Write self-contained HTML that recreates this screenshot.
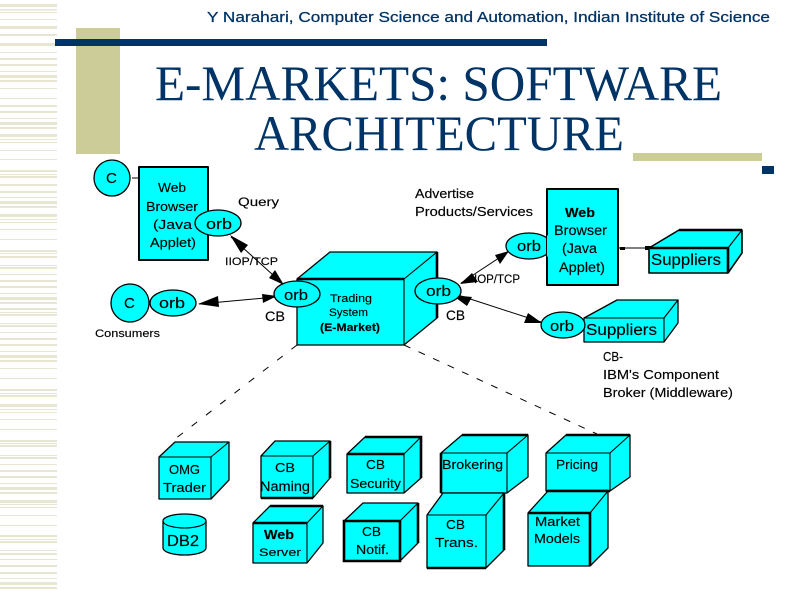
<!DOCTYPE html>
<html><head><meta charset="utf-8"><title>E-Markets: Software Architecture</title>
<style>html,body{margin:0;padding:0;background:#fff}svg{display:block}
.d{font-family:"Liberation Sans",sans-serif;fill:#000;stroke:#000;stroke-width:.15}
.c{fill:#0ff;stroke:#000;stroke-width:1.3;stroke-linejoin:round}
.e{fill:none;stroke:#000;stroke-width:1.1}
.h{fill:none;stroke:#000;stroke-width:2.6}
.l{fill:none;stroke:#000;stroke-width:1}
</style></head><body>
<svg width="794" height="595" viewBox="0 0 794 595" xmlns="http://www.w3.org/2000/svg">
<path fill="#e6e6d2" d="M0 4h57v3H0zM0 9h57v1.500H0zM0 12h57v1H0zM0 19h57v1H0zM0 26h57v3H0zM0 34h57v2H0zM0 43h57v3H0zM0 52h57v1H0zM0 58h57v2H0zM0 64h57v2H0zM0 71h57v1H0zM0 75h57v3H0zM0 80h57v2H0zM0 88h57v1H0zM0 98h57v1H0zM0 105h57v2H0zM0 111h57v2H0zM0 118h57v1H0zM0 122h57v3H0zM0 127h57v2H0zM0 134h57v3H0zM0 139h57v1H0zM0 142h57v1H0zM0 150h57v1H0zM0 159h57v1H0zM0 170h57v2H0zM0 174h57v1H0zM0 176h57v2H0zM0 184h57v2H0zM0 191h57v2H0zM0 197h57v1H0zM0 201h57v3H0zM0 206h57v2H0zM0 214h57v3H0zM0 219h57v1H0zM0 222h57v1H0zM0 229h57v1H0zM0 239h57v1H0zM0 250h57v2H0zM0 253h57v1H0zM0 256h57v2H0zM0 265h57v1H0zM0 267h57v2H0zM0 274h57v1H0zM0 280h57v2H0zM0 286h57v2H0zM0 293h57v1H0zM0 297h57v3H0zM0 302h57v2H0zM0 308h57v2H0zM0 312h57v1H0zM0 314h57v2H0zM0 323h57v1H0zM0 325h57v2H0zM0 332h57v1H0zM0 338h57v2H0zM0 344h57v2H0zM0 351h57v1H0zM0 355h57v3H0zM0 360h57v2H0zM0 368h57v1H0zM0 378h57v1H0zM0 389h57v2H0zM0 393h57v1H0zM0 395h57v2H0zM0 404h57v3H0zM0 409h57v1H0zM0 412h57v1H0zM0 419h57v1H0zM0 429h57v1H0zM0 440h57v2H0zM0 443h57v1H0zM0 445h57v2H0zM0 455h57v1H0zM0 457h57v2H0zM0 464h57v1H0zM0 470h57v2H0zM0 476h57v2H0zM0 483h57v1H0zM0 487h57v3H0zM0 492h57v2H0zM0 500h57v3H0zM0 504h57v1H0zM0 507h57v1H0zM0 515h57v1H0zM0 525h57v1H0zM0 535h57v2H0zM0 539h57v1H0zM0 541h57v2H0zM0 550h57v1H0zM0 553h57v2H0zM0 559h57v1H0zM0 565h57v2H0zM0 572h57v2H0zM0 578h57v1H0zM0 582h57v3H0zM0 587h57v2H0z"/>
<rect x="76" y="28" width="44" height="126" fill="#cccc99"/>
<rect x="55" y="39" width="492" height="7" fill="#003366"/>
<rect x="633" y="153" width="129" height="8" fill="#cccc99"/>
<rect x="762" y="166" width="12" height="8" fill="#003366"/>
<text x="207" y="22" font-family="Liberation Sans" font-size="14.500" fill="#003366" textLength="563" lengthAdjust="spacingAndGlyphs" stroke="#003366" stroke-width=".25">Y Narahari, Computer Science and Automation, Indian Institute of Science</text>
<text x="155" y="100" font-family="Liberation Serif" font-size="50" fill="#003366" textLength="567" lengthAdjust="spacingAndGlyphs">E-MARKETS: SOFTWARE</text>
<text x="254" y="150" font-family="Liberation Serif" font-size="50" fill="#003366" textLength="370" lengthAdjust="spacingAndGlyphs">ARCHITECTURE</text>

<!-- connectors -->
<g class="l">
<path d="M132 178H139"/>
<path d="M231 237L283 284"/>
<path d="M199 304L276 297"/>
<path d="M461 283L508 252"/>
<path d="M458 295L541 322"/>
<path d="M618 248H650"/>
<path d="M297 345L175 439" stroke-dasharray="7 11"/>
<path d="M404 345L597 434" stroke-dasharray="7 9"/>
</g>
<g fill="#000">
<polygon points="230,235 248,245 241,253"/>
<polygon points="284,285 269,278 275,270"/>
<polygon points="198,304 218,296 219,307"/>
<polygon points="277,296 262,294 263,303"/>
<polygon points="460,284 472,273 478,282"/>
<polygon points="509,251 495,255 500,264"/>
<polygon points="452,295 472,297 467,306"/>
<polygon points="542,323 528,313 524,323"/>
<rect x="620" y="247" width="5" height="3"/><rect x="645" y="246" width="6" height="4"/>
</g>

<!-- top left -->
<circle cx="112" cy="178" r="18" class="c" stroke-width="1.6"/>
<rect x="139" y="167" width="69" height="93" class="c" style="stroke-width:2"/>
<ellipse cx="218" cy="223" rx="23" ry="13" class="c"/>
<circle cx="130" cy="303" r="19" class="c"/>
<ellipse cx="173" cy="303" rx="23" ry="13" class="c"/>

<!-- trading -->
<polygon class="c" points="297,279 330,252 437,252 437,318 404,345 297,345"/>
<path class="e" d="M404 279L437 252M404 279V345"/><path class="h" d="M297 279H404M437 252V318"/>
<ellipse cx="297" cy="294" rx="23" ry="13" class="c"/>
<ellipse cx="438" cy="291" rx="23" ry="13" class="c"/>

<!-- right -->
<ellipse cx="529" cy="246" rx="23" ry="13" class="c"/>
<rect x="547" y="189" width="71" height="96" class="c" style="stroke-width:2"/>
<path d="M547 235a23 13 0 0 1 5 11a23 13 0 0 1-5 11" fill="#0ff"/>
<polygon class="c" points="649,248 679,230 742,230 742,253 728,273 649,273" style="stroke-width:1.600"/>
<path class="e" d="M728 248L742 230"/><path class="h" d="M649 248H728V273M679 230H742"/>
<polygon class="c" points="584,318 617,300 678,300 678,323 664,342 584,342"/>
<path class="e" d="M584 318H664V342M664 318L678 300"/>
<ellipse cx="563" cy="325" rx="22" ry="13" class="c"/>

<!-- bottom cubes -->
<polygon class="c" points="159,457 175,442 229,442 229,480 211,499 159,499"/>
<path class="e" d="M159 457H211V499M211 457L229 442"/>
<polygon class="c" points="261,456 275,441 330,441 330,478 313,498 261,498"/>
<path class="e" d="M261 456H313V498M313 456L330 441"/><path class="h" d="M261 498H313M330 441V478"/>
<polygon class="c" points="347,454 365,437 421,437 421,478 404,493 347,493"/>
<path class="e" d="M404 454V493M404 454L421 437"/><path class="h" d="M347 454H404M365 437H421V478"/>
<path class="c" d="M163 521A21.500 7 0 0 1 206 521V548A21.500 7 0 0 1 163 548Z"/>
<path class="e" d="M163 521A21.500 7 0 0 0 206 521"/>
<polygon class="c" points="253,523 270,506 323,506 323,543 307,563 253,563"/>
<path class="e" d="M307 523V563M307 523L323 506"/><path class="h" d="M253 523H307M270 506H323"/>
<polygon class="c" points="344,521 363,503 418,503 418,543 400,561 344,561"/>
<path class="e" d="M400 521L418 503"/><path class="h" d="M344 521H400V561H344ZM418 503V543"/>
<polygon class="c" points="441,453 462,435 528,435 528,477 507,493 441,493"/>
<path class="e" d="M441 453H507V493M507 453L528 435"/><path class="h" d="M441 453V493M462 435H528"/>
<polygon class="c" points="427,515 443,493 504,493 504,550 486,568 427,568"/>
<path class="e" d="M427 515H486V568M486 515L504 493"/><path class="h" d="M427 568H486M504 493V550"/>
<polygon class="c" points="546,453 566,435 630,435 630,477 610,491 546,491"/>
<path class="e" d="M546 453H610V491M610 453L630 435"/><path class="h" d="M566 435H630M546 491H610"/>
<polygon class="c" points="528,513 548,491 608,491 608,548 590,566 528,566"/>
<path class="e" d="M528 566H590M590 513L608 491"/><path class="h" d="M528 513H590V566M548 491H608"/>

<!-- labels -->
<g class="d" font-size="13">
<text x="106" y="183" font-size="15">C</text>
<text x="158" y="192" textLength="28" lengthAdjust="spacingAndGlyphs">Web</text>
<text x="146" y="211" textLength="52" lengthAdjust="spacingAndGlyphs">Browser</text>
<text x="153" y="229" textLength="39" lengthAdjust="spacingAndGlyphs">(Java</text>
<text x="150" y="247" textLength="46" lengthAdjust="spacingAndGlyphs">Applet)</text>
<text x="206" y="229" font-size="15" textLength="26" lengthAdjust="spacingAndGlyphs">orb</text>
<text x="238" y="206" font-size="12" textLength="41" lengthAdjust="spacingAndGlyphs">Query</text>
<text x="225" y="265" font-size="11" textLength="53" lengthAdjust="spacingAndGlyphs">IIOP/TCP</text>
<text x="124" y="308" font-size="15">C</text>
<text x="159" y="308" font-size="15" textLength="26" lengthAdjust="spacingAndGlyphs">orb</text>
<text x="95" y="337" font-size="11" textLength="65" lengthAdjust="spacingAndGlyphs">Consumers</text>
<text x="284" y="300" font-size="15" textLength="24" lengthAdjust="spacingAndGlyphs">orb</text>
<text x="265" y="321" font-size="14" textLength="20" lengthAdjust="spacingAndGlyphs">CB</text>
<text x="330" y="302" font-size="11" textLength="42" lengthAdjust="spacingAndGlyphs">Trading</text>
<text x="329" y="316" font-size="11" textLength="39" lengthAdjust="spacingAndGlyphs">System</text>
<text x="320" y="331" font-size="11" textLength="60" lengthAdjust="spacingAndGlyphs" font-weight="bold">(E-Market)</text>
<text x="426" y="296" font-size="15" textLength="25" lengthAdjust="spacingAndGlyphs">orb</text>
<text x="446" y="320" font-size="14" textLength="19" lengthAdjust="spacingAndGlyphs">CB</text>
<text x="415" y="198" font-size="12.500" textLength="59" lengthAdjust="spacingAndGlyphs">Advertise</text>
<text x="415" y="216" font-size="12.500" textLength="118" lengthAdjust="spacingAndGlyphs">Products/Services</text>
<text x="474" y="283" font-size="12" textLength="46" lengthAdjust="spacingAndGlyphs">IOP/TCP</text>
<text x="517" y="251" font-size="15" textLength="24" lengthAdjust="spacingAndGlyphs">orb</text>
<text x="565" y="217" textLength="30" lengthAdjust="spacingAndGlyphs" font-weight="bold">Web</text>
<text x="554" y="235" font-size="13.500" textLength="53" lengthAdjust="spacingAndGlyphs">Browser</text>
<text x="562" y="253" font-size="13.500" textLength="35" lengthAdjust="spacingAndGlyphs">(Java</text>
<text x="559" y="272" font-size="13.500" textLength="46" lengthAdjust="spacingAndGlyphs">Applet)</text>
<text x="651" y="265" font-size="15.500" textLength="70" lengthAdjust="spacingAndGlyphs">Suppliers</text>
<text x="550" y="331" font-size="15" textLength="24" lengthAdjust="spacingAndGlyphs">orb</text>
<text x="586" y="335" font-size="15.500" textLength="71" lengthAdjust="spacingAndGlyphs">Suppliers</text>
<text x="603" y="361" textLength="20" lengthAdjust="spacingAndGlyphs">CB-</text>
<text x="603" y="379" textLength="116" lengthAdjust="spacingAndGlyphs">IBM's Component</text>
<text x="603" y="397" textLength="130" lengthAdjust="spacingAndGlyphs">Broker (Middleware)</text>
<text x="169" y="474" textLength="31" lengthAdjust="spacingAndGlyphs">OMG</text>
<text x="163" y="492" textLength="43" lengthAdjust="spacingAndGlyphs">Trader</text>
<text x="275" y="472" textLength="20" lengthAdjust="spacingAndGlyphs">CB</text>
<text x="260" y="491" font-size="13.500" textLength="50" lengthAdjust="spacingAndGlyphs">Naming</text>
<text x="366" y="469" textLength="19" lengthAdjust="spacingAndGlyphs">CB</text>
<text x="350" y="488" textLength="51" lengthAdjust="spacingAndGlyphs">Security</text>
<text x="167" y="546" font-size="16" textLength="32" lengthAdjust="spacingAndGlyphs">DB2</text>
<text x="264" y="539" font-size="13" textLength="30" lengthAdjust="spacingAndGlyphs" font-weight="bold">Web</text>
<text x="259" y="556" font-size="11" textLength="42" lengthAdjust="spacingAndGlyphs">Server</text>
<text x="362" y="536" textLength="19" lengthAdjust="spacingAndGlyphs">CB</text>
<text x="356" y="554" textLength="33" lengthAdjust="spacingAndGlyphs">Notif.</text>
<text x="442" y="469" font-size="12.500" textLength="61" lengthAdjust="spacingAndGlyphs">Brokering</text>
<text x="446" y="529" textLength="19" lengthAdjust="spacingAndGlyphs">CB</text>
<text x="435" y="547" textLength="43" lengthAdjust="spacingAndGlyphs">Trans.</text>
<text x="556" y="469" font-size="12.500" textLength="42" lengthAdjust="spacingAndGlyphs">Pricing</text>
<text x="535" y="526" font-size="12.500" textLength="45" lengthAdjust="spacingAndGlyphs">Market</text>
<text x="534" y="543" font-size="12.500" textLength="46" lengthAdjust="spacingAndGlyphs">Models</text>
</g>
</svg>
</body></html>
